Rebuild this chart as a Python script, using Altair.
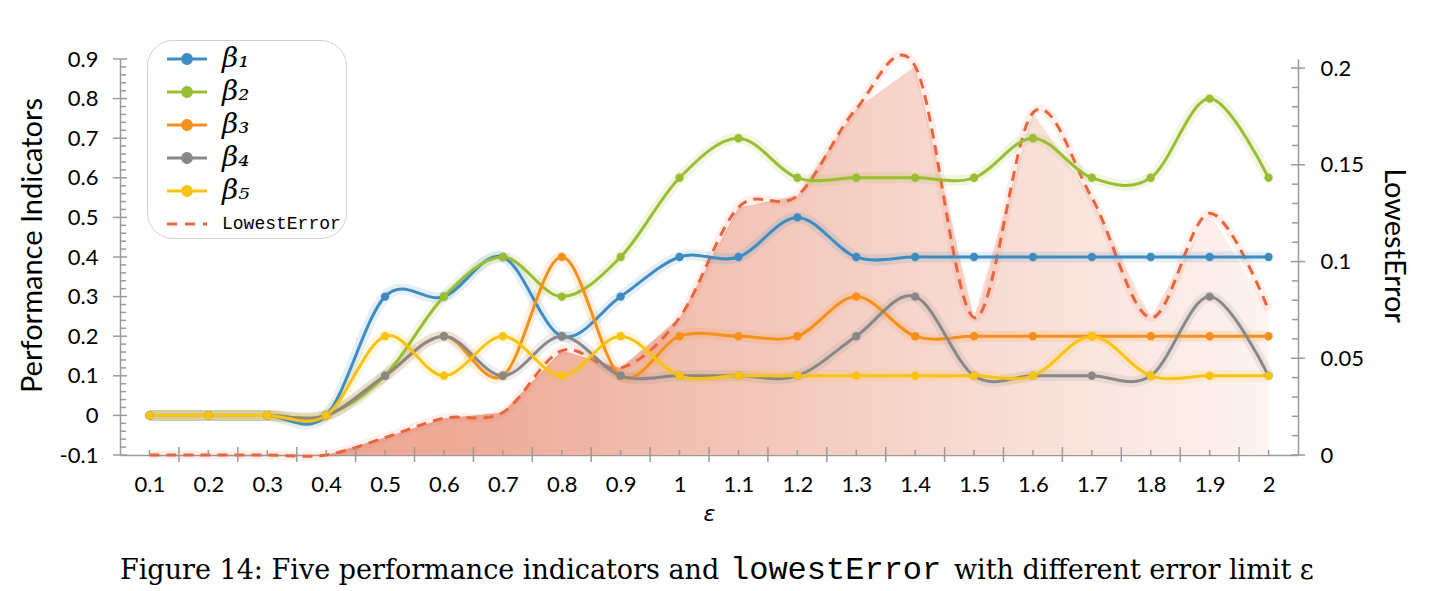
import altair as alt
import pandas as pd

# ---------------- data ----------------
eps = [0.1, 0.2, 0.3, 0.4, 0.5, 0.6, 0.7, 0.8, 0.9, 1.0,
       1.1, 1.2, 1.3, 1.4, 1.5, 1.6, 1.7, 1.8, 1.9, 2.0]
series_names = ["β₁", "β₂", "β₃", "β₄", "β₅"]
beta1 = [0, 0, 0, 0, 0.3, 0.3, 0.4, 0.2, 0.3, 0.4, 0.4, 0.5, 0.4, 0.4, 0.4, 0.4, 0.4, 0.4, 0.4, 0.4]
beta2 = [0, 0, 0, 0, 0.1, 0.3, 0.4, 0.3, 0.4, 0.6, 0.7, 0.6, 0.6, 0.6, 0.6, 0.7, 0.6, 0.6, 0.8, 0.6]
beta3 = [0, 0, 0, 0, 0.1, 0.2, 0.1, 0.4, 0.1, 0.2, 0.2, 0.2, 0.3, 0.2, 0.2, 0.2, 0.2, 0.2, 0.2, 0.2]
beta4 = [0, 0, 0, 0, 0.1, 0.2, 0.1, 0.2, 0.1, 0.1, 0.1, 0.1, 0.2, 0.3, 0.1, 0.1, 0.1, 0.1, 0.3, 0.1]
beta5 = [0, 0, 0, 0, 0.2, 0.1, 0.2, 0.1, 0.2, 0.1, 0.1, 0.1, 0.1, 0.1, 0.1, 0.1, 0.2, 0.1, 0.1, 0.1]
lowest_error = [0, 0, 0, 0, 0.009, 0.019, 0.022, 0.054, 0.045, 0.071,
                0.128, 0.134, 0.179, 0.201, 0.071, 0.177, 0.133, 0.071, 0.125, 0.075]
error_name = "LowestError"

left_tick_values = [-0.1, 0, 0.1, 0.2, 0.3, 0.4, 0.5, 0.6, 0.7, 0.8, 0.9]
right_tick_values = [0, 0.05, 0.1, 0.15, 0.2]
x_mid_ticks = [0.15, 0.25, 0.35, 0.45, 0.55, 0.65, 0.75, 0.85, 0.95, 1.05,
               1.15, 1.25, 1.35, 1.45, 1.55, 1.65, 1.75, 1.85, 1.95]

caption_parts = ["Figure 14: Five performance indicators and", "lowestError",
                 "with different error limit ε"]

colors = ["#3e8cc0", "#9bbd32", "#f5911a", "#888888", "#f9c314", "#e8663f"]

# ---------------- tables ----------------
beta_df = pd.DataFrame(
    [{"eps": e, "series": n, "value": v, "c": c}
     for n, vals, c in zip(series_names, [beta1, beta2, beta3, beta4, beta5], colors)
     for e, v in zip(eps, vals)]
)
err_df = pd.DataFrame({"eps": eps, "err": lowest_error})

left_minor = [round(-0.1 + 0.02 * i, 4) for i in range(51) if i % 5 != 0]
right_minor = [round(0.01 * i, 4) for i in range(1, 21) if i % 5 != 0]
left_major_df = pd.DataFrame({"t": left_tick_values})
left_minor_df = pd.DataFrame({"t": left_minor})
right_major_df = pd.DataFrame({"t": right_tick_values})
right_minor_df = pd.DataFrame({"t": right_minor})
x_short_df = pd.DataFrame({"tx": eps})
x_tall_df = pd.DataFrame({"tx": x_mid_ticks})

W, H = 1178, 396
AXC = "#9a9a9a"

all_names = series_names + [error_name]
color_scale = alt.Scale(domain=all_names, range=colors)
xscale = alt.Scale(domain=[0.05, 2.05], nice=False, zero=False)
xaxis = alt.Axis(values=eps, ticks=False, labelExpr="format(datum.value, '~g')",
                 labelPadding=19, title="ε", titleFontStyle="italic",
                 titleFont="DejaVu Sans", titleFontSize=22, titlePadding=8, grid=False)
lscale = alt.Scale(domain=[-0.1, 0.9], nice=False, zero=False)
laxis = alt.Axis(orient="left", values=left_tick_values, ticks=False, grid=False,
                 labelExpr="replace(format(datum.value, '~g'), '\u2212', '-')",
                 labelPadding=22, title="Performance Indicators",
                 titleX=-88, titleY=186, titleBaseline="middle")
rscale = alt.Scale(domain=[0, 0.2047], nice=False, zero=False)
raxis = alt.Axis(orient="right", values=right_tick_values, ticks=False, grid=False,
                 labelExpr="format(datum.value, '~g')", labelPadding=22,
                 title="LowestError", titleAngle=90, titleX=95, titleY=186,
                 titleBaseline="middle")


def X(field):
    return alt.X(f"{field}:Q", scale=xscale, axis=xaxis)


def YL(field):
    return alt.Y(f"{field}:Q", scale=lscale, axis=laxis)


def YR(field):
    return alt.Y(f"{field}:Q", scale=rscale, axis=raxis)


col = alt.Color("c:N", scale=None)

# ---------------- right (LowestError) layer ----------------
grad = alt.Gradient(
    gradient="linear", x1=0, x2=1, y1=0, y2=0,
    stops=[alt.GradientStop(color="#eba38e", offset=0),
           alt.GradientStop(color="#eeac99", offset=0.3),
           alt.GradientStop(color="#f2c2b4", offset=0.5),
           alt.GradientStop(color="#f8dcd4", offset=0.75),
           alt.GradientStop(color="#fdf3f0", offset=1)],
)
area = alt.Chart(err_df).mark_area(color=grad, interpolate="linear").encode(
    x=X("eps"), y=YR("err"))
dash_halo = alt.Chart(err_df).mark_line(
    color="#e8663f", strokeWidth=9, opacity=0.10, interpolate="cardinal").encode(
    x=X("eps"), y=YR("err"))
dash = alt.Chart(err_df).mark_line(
    color="#e8663f", strokeWidth=3, strokeDash=[10, 7], interpolate="cardinal").encode(
    x=X("eps"), y=YR("err"))
r_major = alt.Chart(right_major_df).mark_rule(color=AXC, strokeWidth=1.5).encode(
    y=YR("t"), x=alt.value(W - 7), x2=alt.value(W + 7))
r_minor = alt.Chart(right_minor_df).mark_rule(color=AXC, strokeWidth=1.5).encode(
    y=YR("t"), x=alt.value(W - 6), x2=alt.value(W))
right_layer = alt.layer(area, dash_halo, dash, r_major, r_minor)

# ---------------- left (betas) layer ----------------
halo = alt.Chart(beta_df).mark_line(strokeWidth=11, opacity=0.14, interpolate="cardinal").encode(
    x=X("eps"), y=YL("value"), color=col, detail="series:N")
lines = alt.Chart(beta_df).mark_line(strokeWidth=3, interpolate="cardinal").encode(
    x=X("eps"), y=YL("value"), color=col, detail="series:N")
pts = alt.Chart(beta_df).mark_circle(size=70, opacity=1).encode(
    x=X("eps"), y=YL("value"), color=col)

dot_path = "M-2,0L2,0M0.44,0A0.44,0.44,0,1,1,-0.44,0A0.44,0.44,0,1,1,0.44,0Z"
line_path = "M-2,0L2,0"
leg = alt.Legend(
    orient="none", legendX=27, legendY=-19, title=None,
    symbolSize=400, symbolStrokeWidth=3, symbolOffset=21, labelOffset=21,
    rowPadding=5, padding=5, strokeColor="#cfcfcf", cornerRadius=26,
    fillColor="white", labelLimit=300, symbolOpacity=1,
    labelFont={"expr": "datum.label == 'LowestError' ? 'Liberation Mono' : 'DejaVu Serif'"},
    labelFontSize={"expr": "datum.label == 'LowestError' ? 18 : 28"},
    labelFontStyle={"expr": "datum.label == 'LowestError' ? 'normal' : 'italic'"},
    labelColor="black",
)
legend_layer = alt.Chart(beta_df).transform_filter("false").mark_point(
    filled=False, strokeWidth=3, opacity=1).encode(
    x=X("eps"), y=YL("value"),
    color=alt.Color("series:N", scale=color_scale, legend=leg),
    fill=alt.Fill("series:N", scale=color_scale, legend=leg),
    shape=alt.Shape("series:N", scale=alt.Scale(domain=all_names,
                                               range=[dot_path] * 5 + [line_path]), legend=leg),
    strokeDash=alt.StrokeDash("series:N", scale=alt.Scale(domain=all_names,
                                                        range=[[1, 0]] * 5 + [[10, 8]]), legend=leg),
)
l_major = alt.Chart(left_major_df).mark_rule(color=AXC, strokeWidth=1.5).encode(
    y=YL("t"), x=alt.value(-7), x2=alt.value(7))
l_minor = alt.Chart(left_minor_df).mark_rule(color=AXC, strokeWidth=1.5).encode(
    y=YL("t"), x=alt.value(0), x2=alt.value(6))
x_short = alt.Chart(x_short_df).mark_rule(color=AXC, strokeWidth=1.5).encode(
    x=X("tx"), y=alt.value(H - 5), y2=alt.value(H))
x_tall = alt.Chart(x_tall_df).mark_rule(color=AXC, strokeWidth=1.5).encode(
    x=X("tx"), y=alt.value(H - 8), y2=alt.value(H + 7))
left_layer = alt.layer(halo, lines, pts, legend_layer, l_major, l_minor, x_short, x_tall)

# ---------------- caption ----------------
cap1 = alt.Chart(pd.DataFrame({"t": [caption_parts[0]]})).mark_text(
    font="DejaVu Serif", fontSize=27, align="left", baseline="alphabetic", color="black").encode(
    text="t:N", x=alt.value(0), y=alt.value(520))
cap2 = alt.Chart(pd.DataFrame({"t": [caption_parts[1]]})).mark_text(
    font="Liberation Mono", fontSize=32, align="left", baseline="alphabetic", color="black").encode(
    text="t:N", x=alt.value(610), y=alt.value(520))
cap3 = alt.Chart(pd.DataFrame({"t": [caption_parts[2]]})).mark_text(
    font="DejaVu Serif", fontSize=27, align="left", baseline="alphabetic", color="black").encode(
    text="t:N", x=alt.value(834), y=alt.value(520))

chart = alt.layer(right_layer, left_layer, cap1, cap2, cap3).resolve_scale(
    y="independent"
).properties(
    width=W, height=H,
    padding={"left": 112, "top": 51, "right": 125, "bottom": 134},
    autosize=alt.AutoSizeParams(type="none"),
).configure_view(stroke=None).configure_axis(
    domainColor=AXC, domainWidth=1.5, labelFont="Lato", labelFontSize=22,
    labelColor="black", titleFont="Lato", titleFontSize=29, titleFontWeight="normal",
    titleColor="black",
).configure_legend(symbolOpacity=1)

chart.save("out.html", embed_options={"renderer": "svg", "actions": False})
